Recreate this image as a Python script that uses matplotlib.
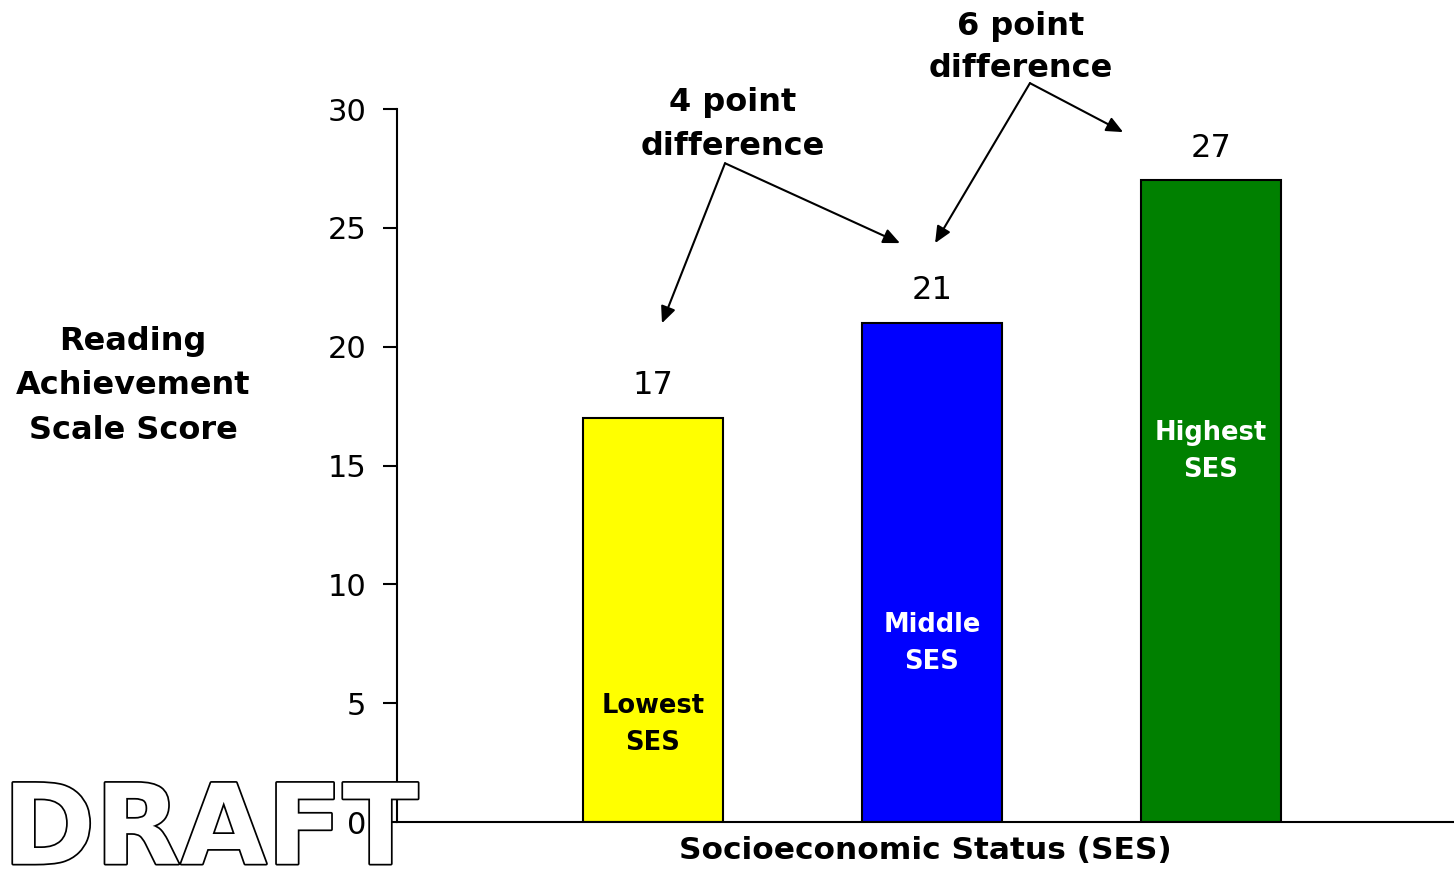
import matplotlib
matplotlib.use("Agg")
import matplotlib.pyplot as plt
import matplotlib.patheffects as pe

categories = ["Lowest\nSES", "Middle\nSES", "Highest\nSES"]
scores = [17, 21, 27]
bar_colors = ["#ffff00", "#0000ff", "#008000"]
inner_text_colors = ["black", "white", "white"]
inner_label_y = [4.1, 7.5, 15.6]
yticks = [0, 5, 10, 15, 20, 25, 30]

plt.rcParams['font.family'] = ['DejaVu Sans']

fig = plt.figure(figsize=(14.54, 8.69), dpi=100)
ax = fig.add_axes([0.273, 0.054, 0.727, 0.8205])

x = list(range(len(categories)))
ax.bar(x, scores, width=0.5, color=bar_colors, edgecolor="black", linewidth=1.5)
ax.set_xlim(-0.918, 2.871)
ax.set_ylim(0, 30)
ax.set_yticks(yticks)
ax.tick_params(axis='y', direction='out', length=10, width=1.5, labelsize=22, pad=12)
ax.set_xticks([])
for s in ["top", "right"]:
    ax.spines[s].set_visible(False)
ax.spines["left"].set_linewidth(1.5)
ax.spines["bottom"].set_linewidth(1.5)

for xi, v in zip(x, scores):
    ax.text(xi, v + 0.7, str(v), ha="center", va="bottom", fontsize=23)

for xi, lab, c, yy in zip(x, categories, inner_text_colors, inner_label_y):
    ax.text(xi, yy, lab, ha="center", va="center", fontsize=18.5, fontweight="bold",
            color=c, linespacing=1.55)

ax.set_xlabel("Socioeconomic Status (SES)", fontsize=22.5, fontweight="bold", labelpad=10)

fig.text(0.0915, 0.556, "Reading\nAchievement\nScale Score", ha="center", va="center",
         fontsize=23, fontweight="bold", linespacing=1.55)

arrow_kw = dict(arrowstyle="-|>,head_length=1.0,head_width=0.45", color="black", lw=1.5,
                shrinkA=0, shrinkB=0)

# 4 point difference
ax.text(0.287, 29.36, "4 point\ndifference", ha="center", va="center", fontsize=23,
        fontweight="bold", linespacing=1.55, clip_on=False)
ax.annotate("", xy=(0.032, 20.99), xytext=(0.258, 27.72), arrowprops=arrow_kw,
            annotation_clip=False)
ax.annotate("", xy=(0.885, 24.36), xytext=(0.258, 27.72), arrowprops=arrow_kw,
            annotation_clip=False)

# 6 point difference
ax.text(1.319, 32.6, "6 point\ndifference", ha="center", va="center", fontsize=23,
        fontweight="bold", linespacing=1.45, clip_on=False)
ax.annotate("", xy=(1.011, 24.36), xytext=(1.351, 31.09), arrowprops=arrow_kw,
            annotation_clip=False)
ax.annotate("", xy=(1.685, 29.03), xytext=(1.351, 31.09), arrowprops=arrow_kw,
            annotation_clip=False)

fig.text(0.002, 0.006, "DRAFT", ha="left", va="baseline", fontsize=80, fontweight="bold",
         color="white", path_effects=[pe.withStroke(linewidth=2.5, foreground="black")],
         zorder=10)

fig.savefig("out.png", dpi=100)
